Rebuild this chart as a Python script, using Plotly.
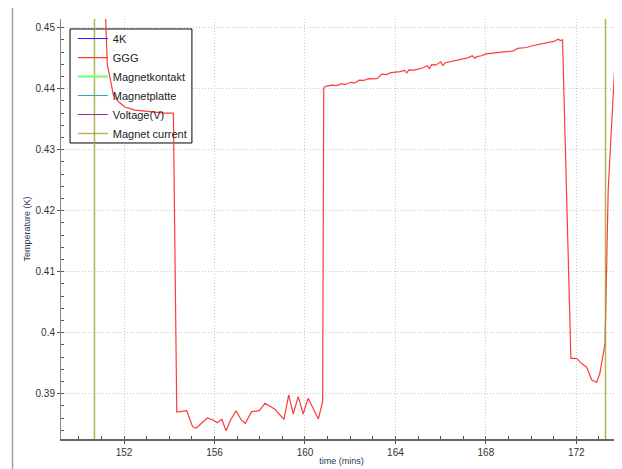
import plotly.graph_objects as go

# ---------------- data ----------------
ggg_time = [151.10, 151.26, 151.38, 151.52, 151.74, 152.04, 152.48, 153.15, 153.81, 154.18,
            154.33, 154.77, 155.03, 155.18, 155.43, 155.68, 155.94, 156.12, 156.32, 156.51,
            156.71, 156.95, 157.18, 157.36, 157.64, 157.98, 158.23, 158.67, 159.07, 159.28,
            159.48, 159.70, 159.92, 160.14, 160.59, 160.78, 160.83, 160.88,
            161.0, 161.2, 161.4, 161.6, 161.8, 162.0, 162.2, 162.4, 162.6, 162.8,
            163.0, 163.2, 163.4, 163.6, 163.8, 164.0, 164.2, 164.4, 164.5, 164.6,
            164.8, 165.0, 165.2, 165.4, 165.5, 165.6, 165.8, 166.0, 166.1, 166.2,
            166.4, 166.6, 166.8, 167.0, 167.2, 167.4, 167.5, 167.6, 167.8, 168.0,
            168.2, 168.4, 168.6, 168.8, 169.0, 169.2, 169.4, 169.6, 169.8, 170.0,
            170.2, 170.4, 170.6, 170.8, 171.0, 171.2, 171.3, 171.39,
            171.76, 172.01, 172.23, 172.46, 172.68, 172.90, 173.04, 173.27, 173.41, 173.84]
ggg_temp = [0.4600, 0.4439, 0.4418, 0.4390, 0.4379, 0.4370, 0.4365, 0.4362, 0.4360, 0.4360,
            0.38700, 0.38721, 0.38459, 0.38433, 0.38515, 0.38602, 0.38569, 0.38525, 0.38580, 0.38393,
            0.38569, 0.38721, 0.38569, 0.38515, 0.38705, 0.38721, 0.38843, 0.38744, 0.38580, 0.38979,
            0.38667, 0.38951, 0.38667, 0.38925, 0.38585, 0.38869, 0.44007, 0.44033,
            0.44045, 0.44060, 0.44052, 0.44080, 0.44070, 0.44105, 0.44095, 0.44140, 0.44135, 0.44165,
            0.44160, 0.44168, 0.44240, 0.44230, 0.44262, 0.44270, 0.44280, 0.44300, 0.44260, 0.44310,
            0.44305, 0.44320, 0.44340, 0.44375, 0.44330, 0.44395, 0.44390, 0.44440, 0.44380, 0.44425,
            0.44440, 0.44455, 0.44470, 0.44490, 0.44505, 0.44540, 0.44500, 0.44525, 0.44540, 0.44570,
            0.44575, 0.44580, 0.44595, 0.44605, 0.44610, 0.44615, 0.44660, 0.44665, 0.44675, 0.44700,
            0.44715, 0.44730, 0.44740, 0.44760, 0.44775, 0.44810, 0.44790, 0.44800,
            0.39580, 0.39580, 0.39498, 0.39433, 0.39225, 0.39187, 0.39334, 0.39826, 0.42339, 0.45370]

# series that lie outside the visible temperature window (only seen in the legend)
other_time = [150.0, 174.0]
k4_temp = [4.2, 4.2]
magnetkontakt_temp = [1.5, 1.5]
magnetplatte_temp = [1.2, 1.2]
voltage_v = [20, 20]

magnet_time = [150.69, 150.69, None, 173.29, 173.29]
magnet_current = [-5, 20, None, 20, -5]

x_ticks = [152, 156, 160, 164, 168, 172]
x_tick_labels = ["152", "156", "160", "164", "168", "172"]
y_ticks = [0.39, 0.40, 0.41, 0.42, 0.43, 0.44, 0.45]
y_tick_labels = ["0.39", "0.4", "0.41", "0.42", "0.43", "0.44", "0.45"]

series_names = ["4K", "GGG", "Magnetkontakt", "Magnetplatte", "Voltage(V)", "Magnet current"]
series_colors = ["#1a1aff", "#ff3a3a", "#80ff80", "#2aa6a6", "#a020a0", "#a0a030"]

# ---------------- figure ----------------
FONT = "Liberation Sans, Arial, sans-serif"
fig = go.Figure()

fig.add_trace(go.Scatter(x=other_time, y=k4_temp, mode="lines", name=series_names[0],
                         line=dict(color=series_colors[0], width=1)))
fig.add_trace(go.Scatter(x=ggg_time, y=ggg_temp, mode="lines", name=series_names[1],
                         line=dict(color=series_colors[1], width=1.2)))
fig.add_trace(go.Scatter(x=other_time, y=magnetkontakt_temp, mode="lines", name=series_names[2],
                         line=dict(color=series_colors[2], width=2.5)))
fig.add_trace(go.Scatter(x=other_time, y=magnetplatte_temp, mode="lines", name=series_names[3],
                         line=dict(color=series_colors[3], width=1)))
fig.add_trace(go.Scatter(x=other_time, y=voltage_v, mode="lines", name=series_names[4],
                         yaxis="y2", line=dict(color=series_colors[4], width=1)))
fig.add_trace(go.Scatter(x=magnet_time, y=magnet_current, mode="lines", name=series_names[5],
                         yaxis="y2", line=dict(color="rgba(160,160,40,0.8)", width=1.5)))

GRID = "1px,2px"
fig.update_layout(
    width=614, height=461,
    margin=dict(l=53, r=0, t=11, b=30),
    paper_bgcolor="white", plot_bgcolor="white",
    font=dict(family=FONT, size=10, color="#333333"),
    showlegend=True,
    legend=dict(x=0.021, y=0.988, xanchor="left", yanchor="top",
                bgcolor="rgba(0,0,0,0)", borderwidth=0,
                font=dict(family=FONT, size=11, color="#222222")),
    xaxis=dict(range=[149.21, 174.02], tickvals=x_ticks, ticktext=x_tick_labels,
               showgrid=True, gridcolor="#c8c8c8", griddash=GRID, gridwidth=1,
               zeroline=False, showline=True, linecolor="#666666", linewidth=1.5,
               ticks="outside", ticklen=3, tickcolor="#555555",
               minor=dict(dtick=1, tick0=152, ticks="inside", ticklen=3, tickcolor="#555555", showgrid=False),
               title=dict(text="time (mins)", font=dict(family=FONT, size=9, color="#2a3850"), standoff=1),
               automargin=False),
    yaxis=dict(range=[0.38257, 0.451426], tickvals=y_ticks, ticktext=y_tick_labels,
               showgrid=True, gridcolor="#c8c8c8", griddash=GRID, gridwidth=1,
               zeroline=False, showline=True, linecolor="#888888", linewidth=1,
               ticks="outside", ticklen=3, tickcolor="#555555",
               minor=dict(dtick=0.002, tick0=0.39, ticks="inside", ticklen=3, tickcolor="#555555", showgrid=False),
               title=dict(text="Temperature (K)", font=dict(family=FONT, size=9, color="#2a3850"), standoff=3),
               automargin=False),
    xaxis2=dict(overlaying="x", side="top", anchor="y", range=[0, 20.07], dtick=1, tick0=0,
                showticklabels=False, showgrid=False, zeroline=False,
                showline=True, linecolor="#999999", linewidth=1,
                ticks="inside", ticklen=3, tickcolor="#666666"),
    yaxis2=dict(overlaying="y", side="right", anchor="x", range=[0, 7.7], dtick=1, tick0=0,
                showticklabels=False, showgrid=False, zeroline=False, showline=False,
                ticks="inside", ticklen=3, tickcolor="#666666"),
    shapes=[
        # legend box: above the grid, beneath the curves
        dict(type="rect", xref="x", yref="y", x0=149.61, x1=155.0, y0=0.4311, y1=0.44979,
             layer="between", fillcolor="white", line=dict(color="black", width=1)),
        dict(type="line", xref="paper", yref="paper", x0=-0.0865, x1=-0.0865, y0=-0.08, y1=1.0321,
             line=dict(color="#a0a0a0", width=1.5)),
        dict(type="line", xref="paper", yref="paper", x0=-0.0865, x1=1.01, y0=1.0321, y1=1.0321,
             line=dict(color="#a0a0a0", width=1.5)),
    ],
)

fig.write_html("out.html")
